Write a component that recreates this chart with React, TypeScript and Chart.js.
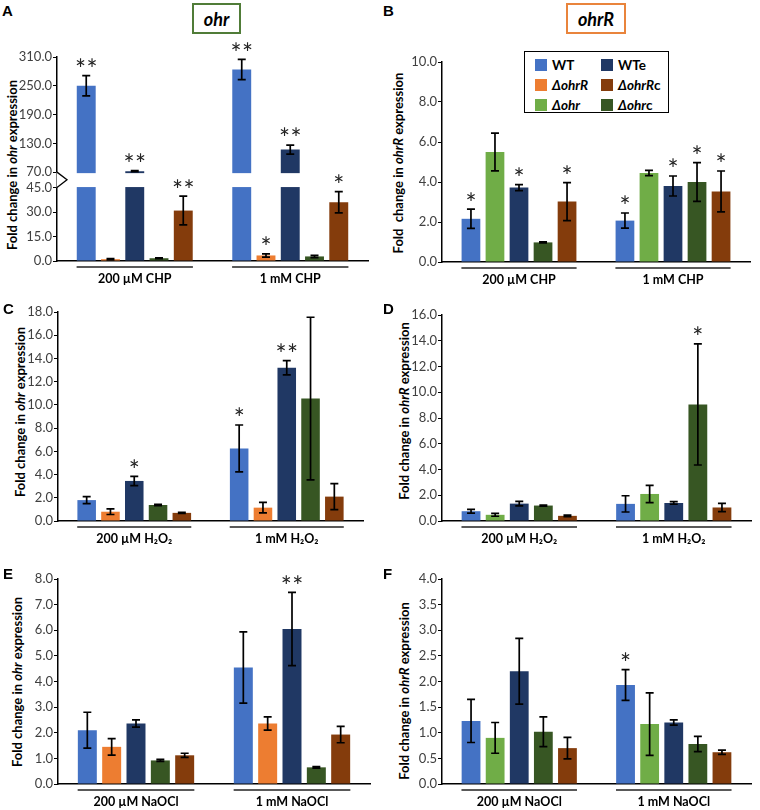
import React, { useEffect, useRef } from 'react';
import { Chart, registerables, LinearScale } from 'chart.js';

Chart.register(...registerables);
Chart.defaults.font.family = 'Lato';

// ---------------- data ----------------
const chpLabels = ['200 µM CHP', '1 mM CHP'];
const h2o2Labels = ['200 µM H₂O₂', '1 mM H₂O₂'];
const naoclLabels = ['200 µM NaOCl', '1 mM NaOCl'];

const ohrStrains = ['WT', 'ΔohrR', 'WTe', 'Δohrc', 'ΔohrRc'];
const ohrRStrains = ['WT', 'Δohr', 'WTe', 'Δohrc', 'ΔohrRc'];

const legendLeft = ['WT', 'ΔohrR', 'Δohr'];
const legendRight = ['WTe', 'ΔohrRc', 'Δohrc'];

// Panel A: ohr, CHP (broken axis)
const aValues = [[250, 284], [1.1, 3.4], [72, 117], [1.7, 2.8], [30.9, 36.0]];
const aErrors = [[21, 21], [0.4, 1.0], [1.2, 9.5], [0.3, 0.7], [8.8, 6.5]];
const aStars = [['**', '**'], ['', '*'], ['**', '**'], ['', ''], ['**', '*']];
const aTicks = [0, 15, 30, 45, 70, 130, 190, 250, 310];
const aBreak = [45, 70];

// Panel B: ohrR, CHP
const bValues = [[2.16, 2.07], [5.5, 4.45], [3.72, 3.8], [0.98, 4.0], [3.02, 3.53]];
const bErrors = [[0.48, 0.38], [0.94, 0.13], [0.15, 0.5], [0.03, 0.97], [0.95, 1.02]];
const bStars = [['*', '*'], ['', ''], ['*', '*'], ['', '*'], ['*', '*']];
const bTicks = [0, 2, 4, 6, 8, 10];

// Panel C: ohr, H2O2
const cValues = [[1.8, 6.25], [0.8, 1.15], [3.45, 13.2], [1.38, 10.55], [0.7, 2.1]];
const cErrors = [[0.3, 2.02], [0.24, 0.45], [0.4, 0.62], [0.05, 7.0], [0.05, 1.12]];
const cStars = [['', '*'], ['', ''], ['*', '**'], ['', ''], ['', '']];
const cTicks = [0, 2, 4, 6, 8, 10, 12, 14, 16, 18];

// Panel D: ohrR, H2O2
const dValues = [[0.76, 1.33], [0.48, 2.1], [1.35, 1.4], [1.2, 9.05], [0.4, 1.05]];
const dErrors = [[0.15, 0.63], [0.11, 0.67], [0.17, 0.1], [0.04, 4.7], [0.06, 0.32]];
const dStars = [['', ''], ['', ''], ['', ''], ['', '*'], ['', '']];
const dTicks = [0, 2, 4, 6, 8, 10, 12, 14, 16];

// Panel E: ohr, NaOCl
const eValues = [[2.1, 4.55], [1.45, 2.36], [2.36, 6.05], [0.92, 0.65], [1.12, 1.93]];
const eErrors = [[0.7, 1.39], [0.32, 0.26], [0.14, 1.43], [0.04, 0.03], [0.08, 0.32]];
const eStars = [['', ''], ['', ''], ['', '**'], ['', ''], ['', '']];
const eTicks = [0, 1, 2, 3, 4, 5, 6, 7, 8];

// Panel F: ohrR, NaOCl
const fValues = [[1.23, 1.93], [0.9, 1.17], [2.2, 1.2], [1.02, 0.78], [0.7, 0.62]];
const fErrors = [[0.42, 0.3], [0.3, 0.61], [0.64, 0.05], [0.29, 0.15], [0.21, 0.04]];
const fStars = [['', '*'], ['', ''], ['', ''], ['', ''], ['', '']];
const fTicks = [0, 0.5, 1, 1.5, 2, 2.5, 3, 3.5, 4];

// ---------------- styles ----------------
const COLOR: Record<string, string> = {
  'WT': '#4472C4',
  'ΔohrR': '#ED7D31',
  'Δohr': '#70AD47',
  'WTe': '#203864',
  'Δohrc': '#375623',
  'ΔohrRc': '#843C0C',
};

const PAD_T = 15;
const PAD_R = 8;
const Y_W = 45;
const X_H = 26;
const FRAC_LOW = 0.36;
const FRAC_GAP = 0.0756;

class BrokenLinearScale extends LinearScale {
  static id = 'brokenLinear';
  static defaults = LinearScale.defaults;
  toDec(v: number) {
    const lo = aBreak[0], hi = aBreak[1];
    const max = (this as any).max;
    if (v <= lo) return (v / lo) * FRAC_LOW;
    if (v < hi) return FRAC_LOW + ((v - lo) / (hi - lo)) * FRAC_GAP;
    return FRAC_LOW + FRAC_GAP + ((v - hi) / (max - hi)) * (1 - FRAC_LOW - FRAC_GAP);
  }
  getPixelForValue(v: any) {
    if (v === null || v === undefined) return NaN;
    return (this as any).getPixelForDecimal(this.toDec(+v));
  }
  getValueForPixel(p: number) {
    const d = (this as any).getDecimalForPixel(p);
    const lo = aBreak[0], hi = aBreak[1];
    const max = (this as any).max;
    if (d <= FRAC_LOW) return (d / FRAC_LOW) * lo;
    if (d < FRAC_LOW + FRAC_GAP) return lo + ((d - FRAC_LOW) / FRAC_GAP) * (hi - lo);
    return hi + ((d - FRAC_LOW - FRAC_GAP) / (1 - FRAC_LOW - FRAC_GAP)) * (max - hi);
  }
}
Chart.register(BrokenLinearScale as any);

const errorPlugin = {
  id: 'errorStars',
  afterDatasetsDraw(chart: any, _args: any, opts: any) {
    const { ctx, chartArea } = chart;
    const y = chart.scales.y;
    ctx.save();
    if (opts.broken) {
      const yHi = y.getPixelForValue(opts.broken[1]);
      const yLo = y.getPixelForValue(opts.broken[0]);
      ctx.fillStyle = '#ffffff';
      ctx.fillRect(chartArea.left + 1, yHi + 1, chartArea.right - chartArea.left, yLo - yHi - 1.5);
    }
    chart.data.datasets.forEach((ds: any, i: number) => {
      const meta = chart.getDatasetMeta(i);
      meta.data.forEach((bar: any, j: number) => {
        const v = ds.data[j];
        const e = opts.errors[i][j];
        const x = bar.x;
        const yt = y.getPixelForValue(v + e);
        const yb = y.getPixelForValue(Math.max(v - e, 0));
        ctx.strokeStyle = '#000';
        ctx.lineWidth = 1.7;
        ctx.beginPath();
        ctx.moveTo(x, yt);
        ctx.lineTo(x, yb);
        ctx.moveTo(x - 4, yt);
        ctx.lineTo(x + 4, yt);
        ctx.moveTo(x - 4, yb);
        ctx.lineTo(x + 4, yb);
        ctx.stroke();
        const s = opts.stars[i][j];
        if (s) {
          const size = 26;
          ctx.font = `${size}px Lato`;
          ctx.fillStyle = '#222';
          ctx.textAlign = 'center';
          ctx.textBaseline = 'alphabetic';
          const cy = yt - 11;
          const base = cy + size * 0.55;
          if (s.length === 1) {
            ctx.fillText('*', x, base);
          } else {
            ctx.fillText('*', x - 5.8, base);
            ctx.fillText('*', x + 5.8, base);
          }
        }
      });
    });
    ctx.restore();
  },
  afterDraw(chart: any, _args: any, opts: any) {
    const { ctx, chartArea } = chart;
    const xs = chart.scales.x;
    const n = chart.data.labels.length;
    const cw = (chartArea.right - chartArea.left) / n;
    ctx.save();
    ctx.strokeStyle = '#222';
    ctx.lineWidth = 1.5;
    for (let i = 0; i < n; i++) {
      const cx = xs.getPixelForTick(i);
      ctx.beginPath();
      ctx.moveTo(cx - cw * 0.374, chartArea.bottom + 6);
      ctx.lineTo(cx + cw * 0.374, chartArea.bottom + 6);
      ctx.stroke();
    }
    if (opts.broken) {
      const y = chart.scales.y;
      const yHi = y.getPixelForValue(opts.broken[1]);
      const yLo = y.getPixelForValue(opts.broken[0]);
      const x0 = chartArea.left;
      const ym = (yHi + yLo) / 2;
      ctx.fillStyle = '#fff';
      ctx.beginPath();
      ctx.moveTo(x0 - 0.5, yHi);
      ctx.lineTo(x0 + 10, ym);
      ctx.lineTo(x0 - 0.5, yLo);
      ctx.closePath();
      ctx.fill();
      ctx.strokeStyle = '#000';
      ctx.lineWidth = 1.3;
      ctx.beginPath();
      ctx.moveTo(x0, yHi);
      ctx.lineTo(x0 + 10, ym);
      ctx.lineTo(x0, yLo);
      ctx.stroke();
    }
    ctx.restore();
  },
};

type PanelCfg = {
  area: number[];
  labels: string[];
  strains: string[];
  values: number[][];
  errors: number[][];
  stars: string[][];
  ticks: number[];
  broken?: number[];
};

const panels: PanelCfg[] = [
  { area: [57, 57, 368, 261], labels: chpLabels, strains: ohrStrains, values: aValues, errors: aErrors, stars: aStars, ticks: aTicks, broken: aBreak },
  { area: [442, 62, 750, 262], labels: chpLabels, strains: ohrRStrains, values: bValues, errors: bErrors, stars: bStars, ticks: bTicks },
  { area: [58, 312, 363, 521], labels: h2o2Labels, strains: ohrStrains, values: cValues, errors: cErrors, stars: cStars, ticks: cTicks },
  { area: [442, 315, 751, 521], labels: h2o2Labels, strains: ohrRStrains, values: dValues, errors: dErrors, stars: dStars, ticks: dTicks },
  { area: [58, 579, 370, 784], labels: naoclLabels, strains: ohrStrains, values: eValues, errors: eErrors, stars: eStars, ticks: eTicks },
  { area: [442, 579, 751, 784], labels: naoclLabels, strains: ohrRStrains, values: fValues, errors: fErrors, stars: fStars, ticks: fTicks },
];

function BarPanel({ p }: { p: PanelCfg }) {
  const ref = useRef<HTMLCanvasElement | null>(null);
  useEffect(() => {
    const ticks = p.ticks;
    const chart = new Chart(ref.current as HTMLCanvasElement, {
      type: 'bar',
      data: {
        labels: p.labels,
        datasets: p.strains.map((name, i) => ({
          label: name,
          data: p.values[i],
          backgroundColor: COLOR[name],
          borderWidth: 0,
          categoryPercentage: 0.78,
          barPercentage: 0.78,
        })),
      },
      options: {
        responsive: false,
        maintainAspectRatio: false,
        animation: false,
        layout: { padding: { top: PAD_T, right: PAD_R, left: 0, bottom: 0 } },
        plugins: {
          legend: { display: false },
          tooltip: { enabled: false },
          errorStars: { errors: p.errors, stars: p.stars, broken: p.broken },
        } as any,
        scales: {
          x: {
            type: 'category',
            grid: { display: false, drawTicks: false },
            border: { display: true, color: '#000', width: 1.5 },
            ticks: { color: '#000', font: { family: 'Lato', size: 12.5, weight: 'bold' }, padding: 10, maxRotation: 0, autoSkip: false },
            afterFit: (s: any) => { s.height = X_H; },
          },
          y: {
            type: (p.broken ? 'brokenLinear' : 'linear') as any,
            min: 0,
            max: ticks[ticks.length - 1],
            afterBuildTicks: (s: any) => { s.ticks = ticks.map((v) => ({ value: v })); },
            grid: { display: true, drawOnChartArea: false, drawTicks: true, tickLength: 4, color: '#000', lineWidth: 1 },
            border: { display: true, color: '#000', width: 1.5 },
            ticks: {
              color: '#404040',
              font: { family: 'Lato', size: 13 },
              padding: 1,
              autoSkip: false,
              callback: (v: any) => Number(v).toFixed(1),
            },
            afterFit: (s: any) => { s.width = Y_W; },
          },
        } as any,
      },
      plugins: [errorPlugin as any],
    });
    return () => chart.destroy();
  }, []);
  const [l, t, r, b] = p.area;
  return (
    <canvas
      ref={ref}
      width={r - l + Y_W + PAD_R}
      height={b - t + PAD_T + X_H}
      style={{ position: 'absolute', left: l - Y_W, top: t - PAD_T }}
    />
  );
}

function strainLabel(name: string) {
  if (name.startsWith('Δ')) {
    const core = name.endsWith('c') ? name.slice(0, -1) : name;
    const tail = name.endsWith('c') ? 'c' : '';
    return (<span><i>{core}</i>{tail}</span>);
  }
  return <span>{name}</span>;
}

const yTitles = [
  { x: 12, y: 165, gene: 'ohr', pre: 'Fold change in ' },
  { x: 398, y: 163, gene: 'ohrR', pre: 'Fold  change in ' },
  { x: 20, y: 412, gene: 'ohr', pre: 'Fold change in ' },
  { x: 404, y: 411, gene: 'ohrR', pre: 'Fold change in ' },
  { x: 17, y: 682, gene: 'ohr', pre: 'Fold change in ' },
  { x: 404, y: 691, gene: 'ohrR', pre: 'Fold change in ' },
];

const panelLetters = [
  { t: 'A', x: 2, y: 3 },
  { t: 'B', x: 383, y: 3 },
  { t: 'C', x: 3, y: 301 },
  { t: 'D', x: 383, y: 301 },
  { t: 'E', x: 3, y: 566 },
  { t: 'F', x: 383, y: 566 },
];

export default function App() {
  return (
    <div style={{ position: 'fixed', left: 0, top: 0, width: 760, height: 810, background: '#fff', overflow: 'hidden', fontFamily: 'Lato' }}>
      {yTitles.map((t, i) => (
        <div key={i} style={{ position: 'absolute', left: t.x, top: t.y, transform: 'translate(-50%, -50%) rotate(-90deg)', whiteSpace: 'pre', font: 'bold 13px Lato', color: '#000' }}>
          {t.pre}<i>{t.gene}</i>{' expression'}
        </div>
      ))}

      {panels.map((p, i) => <BarPanel key={i} p={p} />)}

      {panelLetters.map((l) => (
        <div key={l.t} style={{ position: 'absolute', left: l.x, top: l.y, font: 'bold 15px "Liberation Sans", Arial', lineHeight: '15px', color: '#000' }}>{l.t}</div>
      ))}

      <div style={{ position: 'absolute', left: 192, top: 3, width: 49, height: 31, boxSizing: 'border-box', border: '2px solid #507C38', display: 'flex', alignItems: 'center', justifyContent: 'center', font: 'italic bold 18px Lato', color: '#000' }}>ohr</div>
      <div style={{ position: 'absolute', left: 566, top: 3, width: 60, height: 31, boxSizing: 'border-box', border: '2px solid #E9843C', display: 'flex', alignItems: 'center', justifyContent: 'center', font: 'italic bold 18px Lato', color: '#000' }}>ohrR</div>

      <div style={{ position: 'absolute', left: 524, top: 51, width: 145, height: 62, boxSizing: 'border-box', border: '1.5px solid #000', background: '#fff' }}>
        {[legendLeft, legendRight].map((col, ci) => col.map((name, ri) => (
          <div key={name} style={{ position: 'absolute', left: ci === 0 ? 10 : 76, top: 6 + ri * 20, height: 14, display: 'flex', alignItems: 'center', font: 'bold 13.5px Lato', color: '#000', whiteSpace: 'nowrap' }}>
            <span style={{ display: 'inline-block', width: 12, height: 12, background: COLOR[name], marginRight: 5 }} />
            {strainLabel(name)}
          </div>
        )))}
      </div>
    </div>
  );
}
